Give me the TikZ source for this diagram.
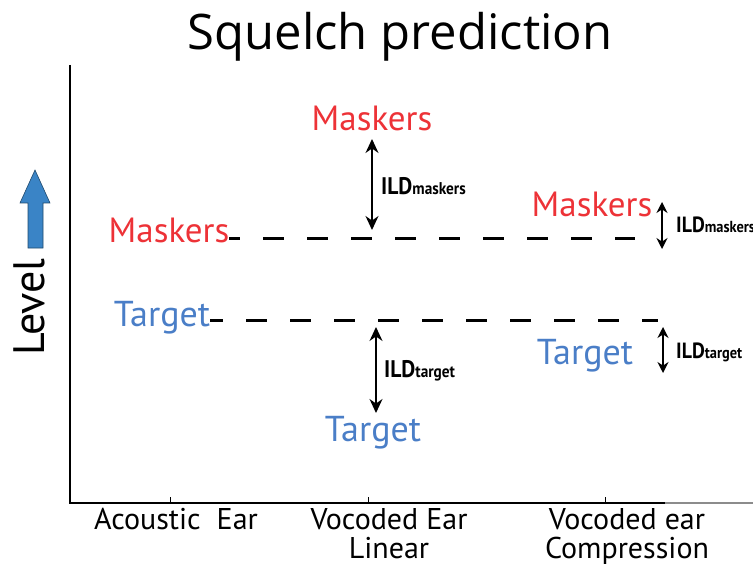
\documentclass[tikz,border=0pt]{standalone}
\usepackage{fontspec}
\usepackage{graphicx}
\setmainfont{PT Sans}
\newfontfamily\titlefont{Open Sans}
\usetikzlibrary{arrows.meta}

\definecolor{maskred}{RGB}{237,50,55}
\definecolor{targblue}{RGB}{74,126,199}
\definecolor{levblue}{RGB}{58,132,198}

\tikzset{
  masklbl/.style={anchor=base,inner sep=0pt,text=maskred,font=\fontsize{35}{35}\selectfont},
  targlbl/.style={anchor=base,inner sep=0pt,text=targblue,font=\fontsize{36}{36}\selectfont},
  refline/.style={line width=3pt,dash pattern=on 21pt off 23pt},
  ildarrow/.style={line width=1.5pt,{Stealth[length=14pt,width=13pt]}-{Stealth[length=14pt,width=13pt]}},
  ildsmall/.style={line width=1.5pt,{Stealth[length=11pt,width=11pt]}-{Stealth[length=11pt,width=11pt]}},
  ildlbl/.style={anchor=base west,inner sep=0pt},
  axlbl/.style={anchor=north,inner sep=0pt,align=center,font=\fontsize{30}{29}\selectfont}
}
% ILD label: size of ILD, size of subscript, subscript text
\newcommand{\ildtext}[3]{\scalebox{0.9}[1]{\bfseries\fontsize{#1}{#1}\selectfont ILD\fontsize{#2}{#2}\selectfont #3}}

\begin{document}
\begin{tikzpicture}[x=1pt,y=-1pt]
  \useasboundingbox (0,0) rectangle (753,567);
  \clip (0,0) rectangle (753,567);

  % title
  \node[inner sep=0pt,font=\titlefont\fontsize{49}{49}\selectfont] (title) at (400,37) {Squelch prediction};

  % axes
  \coordinate (ytop) at (70,65);
  \coordinate (O) at (70,503);
  \coordinate (xend) at (665,503);
  \coordinate (xfar) at (753,503);
  \draw[line width=1.6pt] (ytop) -- (O) -- (xend);
  \draw[line width=1.6pt,black!45] (xend) -- (xfar);
  \foreach \x in {170,368,605}
    \draw[line width=1pt] (\x,503) -- (\x,497);

  \node[axlbl] (acou) at (176,508) {Acoustic\ \ Ear};
  \node[axlbl] (lin) at (389,508) {Vocoded Ear\\Linear};
  \node[axlbl] (comp) at (627,508) {Vocoded ear\\Compression};

  % level arrow
  \draw[fill=levblue,draw=levblue!55!black,line width=0.6pt]
    (28,248) -- (28,203) -- (20,203) -- (35,170) -- (50,203) -- (43,203) -- (43,248) -- cycle;
  \node[rotate=90,anchor=base,inner sep=0pt,font=\fontsize{44}{44}\selectfont] (level) at (45,307) {Level};

  % acoustic ear levels
  \node[masklbl] (maskA) at (169,243) {Maskers};
  \node[targlbl] (targA) at (162,326) {Target};
  \coordinate (maskEnd) at (635,238);
  \coordinate (targEnd) at (658,320);
  \draw[refline,dash phase=10pt] (maskA.east |- maskEnd) -- (maskEnd);
  \draw[refline,dash phase=8pt] (targA.east |- targEnd) -- (targEnd);

  % vocoded ear, linear
  \node[masklbl] (maskL) at (372,131) {Maskers};
  \node[targlbl] (targL) at (373,441) {Target};
  \coordinate (mLtop) at (372,139);
  \coordinate (mLbot) at (372,230);
  \coordinate (tLtop) at (376,327);
  \coordinate (tLbot) at (376,413);
  \draw[ildarrow] (mLtop) -- (mLbot);
  \draw[ildarrow] (tLtop) -- (tLbot);
  \node[ildlbl] (ildmL) at (381,195) {\ildtext{24}{17}{maskers}};
  \node[ildlbl] (ildtL) at (384,377) {\ildtext{24}{17}{target}};

  % vocoded ear, compression
  \node[masklbl] (maskC) at (592,216) {Maskers};
  \node[targlbl] (targC) at (585,364) {Target};
  \coordinate (mCtop) at (662,202);
  \coordinate (mCbot) at (662,249);
  \coordinate (tCtop) at (663,327);
  \coordinate (tCbot) at (663,373);
  \draw[ildsmall] (mCtop) -- (mCbot);
  \draw[ildsmall] (tCtop) -- (tCbot);
  \node[ildlbl] (ildmC) at (676,233) {\ildtext{22}{16}{maskers}};
  \node[ildlbl] (ildtC) at (676,358) {\ildtext{22}{16}{target}};
\end{tikzpicture}
\end{document}
